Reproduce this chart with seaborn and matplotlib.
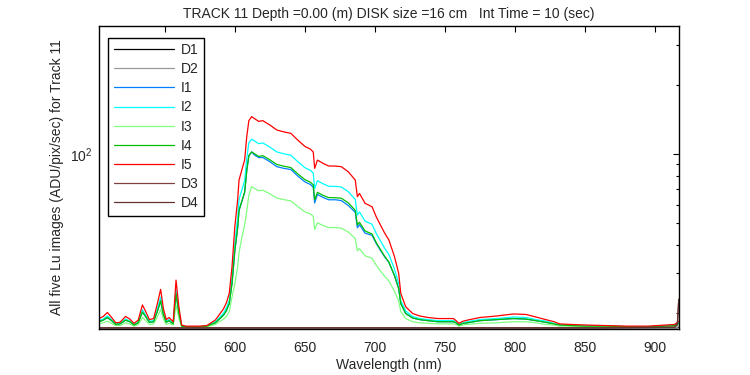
import matplotlib
matplotlib.use("Agg")
import matplotlib.pyplot as plt
import matplotlib.ticker as mticker
import pandas as pd
import seaborn as sns

# wavelength grid (nm) shared by the five Lu image spectra
wl = [503, 506, 509, 512, 515, 518, 522, 525, 528, 531, 534, 536, 539, 542, 545, 547, 549, 551, 553, 556,
      558, 560, 562, 565, 570, 575, 580, 583, 586, 589, 592, 594, 596, 598, 600, 602, 603, 605, 607, 608.5,
      610, 612, 614, 617, 620, 625, 630, 635, 640, 645, 650, 654, 656, 657, 659, 663, 667, 672, 676, 681,
      686, 687.5, 689, 693, 698, 701, 704, 707, 710, 714, 717, 718.5, 722, 727, 732, 738, 745, 756, 758, 760,
      763, 766, 775, 787, 799, 808, 815, 822, 828, 832, 840, 850, 865, 880, 895, 908, 914, 917]

i5 = [19.0, 19.4, 20.2, 19.2, 18.2, 18.3, 19.4, 18.9, 18.1, 18.7, 21.8, 20.6, 18.8, 19.0, 22.5, 25.5, 21.0, 18.8, 19.2, 18.4,
      28.0, 21.5, 17.8, 17.6, 17.6, 17.6, 17.7, 18.2, 18.7, 19.8, 21.0, 22.3, 24.5, 32.1, 48.0, 62.9, 76.9, 85.1, 94.1, 119,
      140, 145.8, 143, 139, 140, 134, 127.4, 125, 123.2, 115, 108, 105, 102, 86.5, 94, 91, 88.6, 88.5, 88, 83.6,
      76.9, 65, 67.2, 60.8, 58.7, 53, 48.8, 45, 42, 35.5, 30, 24.5, 21.4, 20.0, 19.5, 19.2, 19.0, 19.0, 18.6, 18.1,
      18.5, 18.7, 19.2, 19.5, 19.9, 19.8, 19.3, 18.8, 18.4, 18.0, 17.9, 17.8, 17.7, 17.6, 17.6, 17.8, 17.9, 18.5]

i2 = [18.6, 18.9, 19.5, 18.8, 18.0, 18.1, 18.9, 18.5, 17.9, 18.4, 20.8, 19.8, 18.5, 18.6, 21.3, 23.6, 20.1, 18.5, 18.8, 18.1,
      25.5, 20.5, 17.7, 17.5, 17.5, 17.5, 17.6, 18.0, 18.4, 19.2, 20.1, 21.2, 22.8, 28.7, 40.9, 52.4, 63.2, 69.5, 76.4, 95.6,
      111.8, 116.2, 114.1, 111.0, 111.8, 107.2, 102.1, 100.2, 98.8, 92.5, 87.1, 84.8, 82.5, 70.6, 76.4, 74.0, 72.2, 72.1, 71.7, 68.4,
      63.2, 54.0, 55.7, 50.8, 49.2, 44.8, 41.6, 38.6, 36.3, 31.3, 27.1, 22.8, 20.5, 19.4, 19.0, 18.8, 18.6, 18.6, 18.3, 17.9,
      18.2, 18.4, 18.8, 19.0, 19.3, 19.2, 18.8, 18.5, 18.1, 17.8, 17.8, 17.7, 17.6, 17.5, 17.5, 17.7, 17.8, 18.2]

i4 = [18.4, 18.7, 19.2, 18.6, 17.9, 18.0, 18.7, 18.4, 17.8, 18.2, 20.3, 19.5, 18.3, 18.4, 20.7, 22.7, 19.7, 18.3, 18.6, 18.0,
      24.4, 20.1, 17.6, 17.5, 17.5, 17.5, 17.6, 17.9, 18.2, 18.9, 19.7, 20.6, 22.1, 27.1, 37.6, 47.4, 56.6, 62.0, 68.0, 84.4,
      98.3, 102.1, 100.3, 97.6, 98.3, 94.3, 90.0, 88.4, 87.2, 81.8, 77.2, 75.2, 73.2, 63.0, 67.9, 65.9, 64.4, 64.3, 64.0, 61.1,
      56.6, 48.8, 50.2, 46.0, 44.6, 40.9, 38.1, 35.6, 33.6, 29.3, 25.7, 22.1, 20.0, 19.1, 18.8, 18.6, 18.4, 18.4, 18.2, 17.8,
      18.1, 18.2, 18.6, 18.8, 19.0, 18.9, 18.6, 18.3, 18.0, 17.8, 17.7, 17.6, 17.6, 17.5, 17.5, 17.6, 17.7, 18.1]

i1 = [18.4, 18.7, 19.2, 18.6, 17.9, 18.0, 18.7, 18.4, 17.8, 18.2, 20.3, 19.5, 18.3, 18.4, 20.7, 22.7, 19.7, 18.3, 18.6, 18.0,
      24.4, 20.1, 17.6, 17.5, 17.5, 17.5, 17.6, 17.9, 18.2, 18.9, 19.7, 20.6, 22.1, 27.1, 37.6, 47.4, 56.6, 62.0, 68.0, 84.4,
      98.3, 102.1, 99.0, 96.5, 96.5, 92.5, 88.0, 86.5, 85.5, 80.0, 75.5, 73.5, 71.5, 61.0, 66.5, 64.5, 63.0, 63.0, 62.5, 59.5,
      55.5, 47.5, 49.0, 45.0, 44.0, 40.5, 37.8, 35.4, 33.5, 29.3, 25.7, 22.1, 20.0, 19.1, 18.8, 18.6, 18.4, 18.4, 18.2, 17.8,
      18.1, 18.2, 18.6, 18.8, 19.0, 18.9, 18.6, 18.3, 18.0, 17.8, 17.7, 17.6, 17.6, 17.5, 17.5, 17.6, 17.7, 18.1]

i3 = [18.0, 18.2, 18.5, 18.1, 17.7, 17.7, 18.2, 18.0, 17.6, 17.9, 19.2, 18.7, 17.9, 18.0, 19.5, 20.8, 18.9, 17.9, 18.1, 17.8,
      21.8, 19.1, 17.5, 17.4, 17.4, 17.4, 17.5, 17.7, 17.9, 18.4, 18.9, 19.4, 20.4, 23.6, 27.0, 32.0, 37.0, 43.0, 49.0, 56.0,
      66.0, 71.9, 70.7, 69.0, 69.4, 66.9, 64.1, 63.1, 62.3, 58.8, 55.8, 54.6, 53.3, 46.7, 49.9, 48.6, 47.6, 47.6, 47.3, 45.5,
      42.6, 37.6, 38.5, 35.8, 34.9, 32.5, 30.7, 29.1, 27.8, 25.0, 22.7, 20.4, 19.0, 18.4, 18.2, 18.1, 18.0, 18.0, 17.9, 17.6,
      17.8, 17.9, 18.1, 18.2, 18.4, 18.4, 18.2, 17.9, 17.8, 17.6, 17.6, 17.5, 17.5, 17.4, 17.4, 17.5, 17.6, 17.8]

# dark frames are flat near the bottom
d_wl = [503, 560, 620, 680, 740, 800, 860, 914, 916, 917]
d1 = [17.3, 17.3, 17.3, 17.3, 17.3, 17.3, 17.3, 17.3, 17.3, 17.4]
d2 = [17.3, 17.3, 17.3, 17.3, 17.3, 17.3, 17.3, 17.3, 17.4, 17.5]
d3 = [17.3, 17.3, 17.3, 17.3, 17.3, 17.3, 17.3, 17.4, 18.0, 23.1]
d4 = [17.3, 17.3, 17.3, 17.3, 17.3, 17.3, 17.3, 17.4, 17.8, 23.0]

names = ["D1", "D2", "I1", "I2", "I3", "I4", "I5", "D3", "D4"]
colores = ["#000000", "#999999", "#0080ff", "#00ffff", "#80ff80", "#00bf00", "#ff0000", "#804040", "#663333"]

series = {"D1": (d_wl, d1), "D2": (d_wl, d2), "I1": (wl, i1), "I2": (wl, i2), "I3": (wl, i3),
          "I4": (wl, i4), "I5": (wl, i5), "D3": (d_wl, d3), "D4": (d_wl, d4)}

partes = []
for n in names:
    x, y = series[n]
    partes.append(pd.DataFrame({"wl": x, "val": y, "serie": n}))
df = pd.concat(partes, ignore_index=True)

sns.set_style("white")
plt.rcParams["font.family"] = ["Liberation Sans", "DejaVu Sans"]

fig = plt.figure(figsize=(7.5, 3.75), dpi=100)
ax = fig.add_axes([0.132, 0.1227, 0.773, 0.808])

sns.lineplot(data=df, x="wl", y="val", hue="serie", hue_order=names, palette=colores,
             estimator=None, sort=False, linewidth=0.9, ax=ax)

ax.set_yscale("log")
ax.set_xlim(503, 917)
ax.set_ylim(17.1, 364)
ax.xaxis.set_major_locator(mticker.MultipleLocator(50))
ax.yaxis.set_minor_formatter(mticker.NullFormatter())
ax.tick_params(which="both", direction="in", top=True, right=True, labelsize=10, color="black")
ax.tick_params(which="major", length=4, width=0.8)
ax.tick_params(which="minor", length=2.5, width=0.8)
ax.tick_params(axis="x", which="major", pad=9)
ax.tick_params(axis="y", which="major", pad=5)
for s in ax.spines.values():
    s.set_color("black")
    s.set_linewidth(1)

ax.set_xlabel("Wavelength (nm)", fontsize=10, labelpad=2)
ax.set_ylabel("All five Lu images (ADU/pix/sec) for Track 11", fontsize=10, labelpad=4)
ax.set_title("TRACK 11 Depth =0.00 (m) DISK size =16 cm   Int Time = 10 (sec)", fontsize=10, pad=6)

leg = ax.legend(loc="upper left", bbox_to_anchor=(0.016, 0.962), borderaxespad=0, fontsize=10,
                frameon=True, fancybox=False, handlelength=4.3, labelspacing=0.37, borderpad=0.4,
                handletextpad=0.5)
leg.get_frame().set_edgecolor("black")
leg.get_frame().set_linewidth(1)
leg.get_frame().set_alpha(1)

plt.savefig("out.png", dpi=100)
